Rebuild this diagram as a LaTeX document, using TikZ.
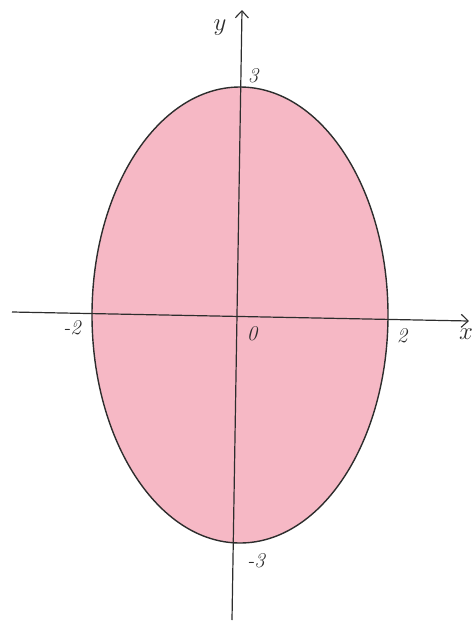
\documentclass[tikz,border=0pt]{standalone}
\usetikzlibrary{arrows.meta,shapes.geometric}
\definecolor{crayon}{RGB}{246,184,197}
\definecolor{pencil}{RGB}{45,45,45}
\begin{document}
\begin{tikzpicture}[x=1pt,y=-1pt,
  axis/.style={draw=pencil,line width=1.2pt,-{Straight Barb[length=7pt,width=13pt,line width=1.1pt]}},
  lbl/.style={text=pencil,font=\fontsize{21}{23}\selectfont\itshape,inner sep=0pt},
  big/.style={text=pencil,font=\fontsize{28}{30}\selectfont,inner sep=0pt},
  oval/.style={ellipse,draw=pencil,fill=crayon,line width=1.4pt,minimum width=296pt,minimum height=456pt,inner sep=0pt}]
\useasboundingbox (0,0) rectangle (476,622);
\node[oval] (E) at (240,315) {};
\coordinate (xl) at (12,312);
\coordinate (xr) at (469,321);
\coordinate (yb) at (232,620);
\coordinate (yt) at (242,10);
\draw[axis] (xl) -- (xr);
\draw[axis] (yb) -- (yt);
\node[big] (ylab) at (220,28) {$y$};
\node[big] (xlab) at (466,334) {$x$};
\node[lbl] (l3) at (253,76) {3};
\node[lbl] (lm3) at (256,561) {-3};
\node[lbl] (lm2) at (72,328) {-2};
\node[lbl] (l2) at (402,336) {2};
\node[lbl] (l0) at (252,334) {0};
\end{tikzpicture}
\end{document}
